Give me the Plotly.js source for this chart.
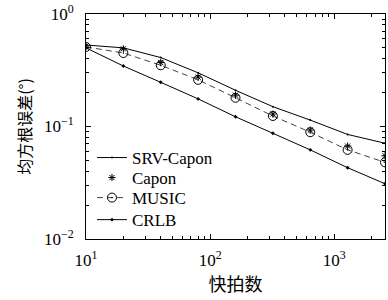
<!DOCTYPE html>
<html><head><meta charset="utf-8">
<script src="https://cdn.plot.ly/plotly-3.0.1.min.js"></script>
<style>html,body{margin:0;padding:0;background:#fff}#c{width:388px;height:300px}</style>
</head><body><div id="c"></div>
<script>
const snapshots = [10, 20, 40, 80, 160, 320, 640, 1280, 2560];
const srvCapon = [0.53, 0.50, 0.41, 0.30, 0.21, 0.15, 0.114, 0.085, 0.071];
const capon = [0.52, 0.49, 0.37, 0.275, 0.19, 0.129, 0.093, 0.067, 0.055];
const music = [0.51, 0.45, 0.35, 0.26, 0.18, 0.124, 0.089, 0.062, 0.048];
const crlb = [0.50, 0.345, 0.247, 0.176, 0.122, 0.087, 0.062, 0.043, 0.031];
const seriesNames = ['SRV-Capon', 'Capon', 'MUSIC', 'CRLB'];
const xTickVals = [10, 100, 1000];
const xTickText = ['10<sup>1</sup>', '10<sup>2</sup>', '10<sup>3</sup>'];
const yTickVals = [0.01, 0.1, 1];
const yTickText = ['10<sup>−2</sup>', '10<sup>−1</sup>', '10<sup>0</sup>'];
const xTitle = '快拍数';
const yTitle = '均方根误差(°)';

const minorX = [];
for (let d = 10; d <= 1000; d *= 10) for (let k = 2; k <= 9; k++) minorX.push(d * k);
const minorY = [];
for (let d = 0.01; d <= 0.1 + 1e-9; d *= 10) for (let k = 2; k <= 9; k++) minorY.push(d * k);

const serif = 'Liberation Serif, DejaVu Serif, serif';
const cjk = 'Noto Sans CJK SC';
const traces = [
  {x: snapshots, y: srvCapon, name: seriesNames[0], legend: 'legend', mode: 'lines+markers',
   line: {color: '#000', width: 1}, marker: {symbol: 'circle', size: 2, color: '#000'}},
  {x: snapshots, y: capon, name: seriesNames[1], legend: 'legend2', mode: 'markers',
   marker: {symbol: 'asterisk-open', size: 6, color: '#000', line: {color: '#000', width: 1}}},
  {x: snapshots, y: music, name: seriesNames[2], legend: 'legend3', mode: 'lines+markers',
   line: {color: '#444', width: 1, dash: '6px,4px'},
   marker: {symbol: 'circle-open-dot', size: 9, color: '#000', line: {color: '#000', width: 1}}},
  {x: snapshots, y: crlb, name: seriesNames[3], legend: 'legend4', mode: 'lines+markers',
   line: {color: '#000', width: 1}, marker: {symbol: 'diamond', size: 3, color: '#000'}}
];

const axisCommon = {
  type: 'log', showgrid: false, zeroline: false, showline: true, linecolor: '#000', linewidth: 1,
  mirror: 'ticks', ticks: 'inside', ticklen: 5, tickcolor: '#000', tickwidth: 1,
  tickfont: {family: serif, size: 17, color: '#000'}
};

function leg(y) {
  return {x: 0.02, y: y, xanchor: 'left', yanchor: 'middle', bgcolor: 'rgba(0,0,0,0)',
    font: {family: serif, size: 17, color: '#000'}, itemwidth: 30};
}

const layout = {
  width: 388, height: 300,
  margin: {l: 86, r: 3, t: 14, b: 61},
  paper_bgcolor: '#fff', plot_bgcolor: '#fff',
  showlegend: true,
  legend: leg(0.36), legend2: leg(0.271), legend3: leg(0.182), legend4: leg(0.084),
  xaxis: Object.assign({}, axisCommon, {
    range: [1, Math.log10(2560)], tickmode: 'array', tickvals: xTickVals, ticktext: xTickText,
    ticklabelstandoff: 6,
    minor: {tickmode: 'array', tickvals: minorX, ticks: 'inside', ticklen: 3, tickcolor: '#000'},
    title: {text: xTitle, font: {family: cjk, size: 18, color: '#000'}, standoff: 6}
  }),
  yaxis: Object.assign({}, axisCommon, {
    range: [-2, 0], tickmode: 'array', tickvals: yTickVals, ticktext: yTickText,
    ticklabelstandoff: 8,
    minor: {tickmode: 'array', tickvals: minorY, ticks: 'inside', ticklen: 3, tickcolor: '#000'},
    title: {text: yTitle, font: {family: cjk, size: 16, color: '#000'}, standoff: 8}
  })
};

Plotly.newPlot('c', traces, layout, {displayModeBar: false, staticPlot: true});
</script></body></html>
